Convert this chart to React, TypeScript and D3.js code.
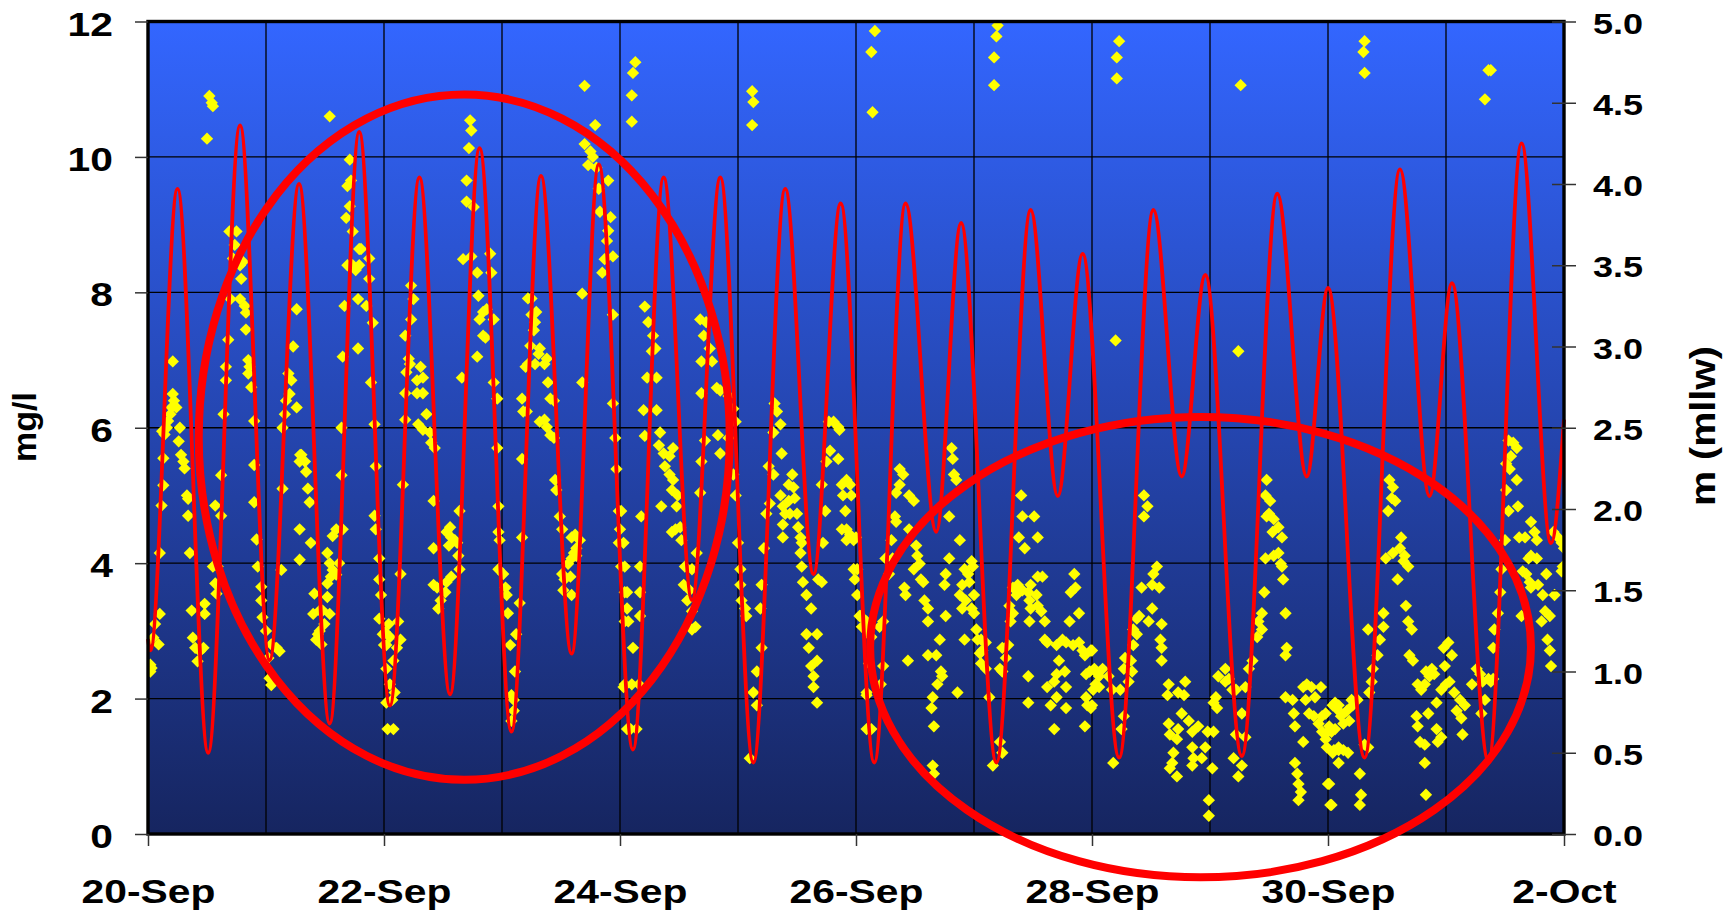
import React, { useRef, useEffect } from "react";
import * as d3 from "d3";

// x axis: days since 20-Sep (labels every 2 days)
const startDate = Date.UTC(2006, 8, 20);
const xTickDays = [0, 2, 4, 6, 8, 10, 12];
const leftTicks = [0, 2, 4, 6, 8, 10, 12];
const rightTicks = [0, 0.5, 1, 1.5, 2, 2.5, 3, 3.5, 4, 4.5, 5];

// tide (m mllw), highs and lows: [day, m]
const tide: [number, number][] = [
  [0, 1.2], [0.02, 1.13], [0.25, 3.97], [0.51, 0.5], [0.78, 4.36], [1.03, 1.07], [1.28, 4.0], [1.54, 0.68],
  [1.79, 4.32], [2.05, 0.79], [2.3, 4.04], [2.56, 0.86], [2.81, 4.22], [3.08, 0.63], [3.33, 4.05], [3.59, 1.11],
  [3.82, 4.12], [4.11, 0.52], [4.37, 4.04], [4.61, 1.44], [4.85, 4.04], [5.13, 0.44], [5.4, 3.97], [5.64, 1.6],
  [5.87, 3.88], [6.155, 0.44], [6.42, 3.88], [6.68, 1.86], [6.89, 3.76], [7.19, 0.44], [7.48, 3.84], [7.71, 2.08],
  [7.92, 3.57], [8.23, 0.47], [8.52, 3.84], [8.76, 2.2], [8.96, 3.44], [9.27, 0.48], [9.57, 3.94], [9.82, 2.2],
  [10.0, 3.36], [10.31, 0.47], [10.61, 4.09], [10.86, 2.08], [11.05, 3.39], [11.36, 0.45], [11.64, 4.25],
  [11.89, 1.79], [12.0, 2.55],
];

// dissolved oxygen (mg/l): [day, value]
const doSep20: [number, number][] = [
  [0.52,10.9],[0.54,10.8],[0.55,10.75],[0.5,10.27],[0.21,6.98],[0.21,6.5],[0.22,6.4],[0.2,6.3],[0.24,6.3],[0.19,6.2],[0.17,6.1],[0.16,6.0],[0.14,5.9],[0.12,5.95],[0.27,6.0],[0.26,5.8],[0.28,5.6],[0.3,5.5],[0.31,5.4],[0.13,5.55],[0.13,5.15],[0.115,4.85],[0.33,5.0],[0.34,4.95],[0.34,4.7],[0.1,4.15],[0.355,4.15],[0.1,3.25],[0.06,3.1],[0.045,2.9],[0.09,2.8],[0.0,2.85],[0.02,2.5],[0.03,2.45],[0.02,2.4],[0.37,3.3],[0.38,2.9],[0.4,2.75],[0.44,2.7],[0.42,2.55],[0.47,2.75],[0.48,3.4],[0.48,3.25],[0.57,4.85],[0.62,4.7],[0.62,5.3],[0.64,6.2],[0.66,6.7],[0.66,6.9],[0.68,7.3],[0.7,7.9],[0.72,8.5],[0.735,8.7],[0.75,8.9],[0.69,8.9],[0.78,8.4],[0.805,8.45],[0.79,8.2],[0.78,7.9],[0.82,7.8],[0.83,7.7],[0.83,7.45],[0.85,7.0],[0.86,6.9],[0.85,6.8],[0.875,6.6],[0.9,6.1],[0.9,5.45],[0.9,4.9],[0.92,4.35],[0.93,3.95],[0.96,3.65],[0.96,3.45],[0.97,3.2],[1.0,3.0],[1.045,2.8],[1.09,2.75],[1.115,2.7],[1.02,2.6],[1.03,2.3],[1.045,2.2],[0.59,3.95],[0.57,3.7],[0.58,3.55],[0.55,3.95],[1.13,3.9],[1.14,5.1],[1.14,6.0],[1.16,6.2],[1.17,6.4],[1.2,6.5],[1.26,6.3],[1.215,6.7],[1.19,6.8],[1.23,7.2],[1.26,7.75],[1.29,5.6],[1.3,5.6],[1.285,5.5],[1.33,5.5],[1.34,5.35],[1.355,5.1],[1.37,4.9],[1.285,4.5],[1.285,4.05],[1.38,4.3],[1.41,3.55],[1.4,3.25],[1.455,3.3],[1.44,2.95],[1.425,2.87],[1.47,2.8],[1.52,4.15],[1.54,4.0],[1.55,3.8],[1.565,3.9],[1.595,3.83],[1.62,4.0],[1.65,4.5],[1.595,4.5],[1.565,4.4],[1.52,3.7],[1.52,3.5],[1.48,3.3],[1.495,3.1],[1.54,3.25],[1.455,3.0],[1.64,5.3],[1.64,6.0],[1.65,7.05],[1.665,7.8],[1.69,8.4],[1.735,8.4],[1.76,8.33],[1.79,8.4],[1.79,8.64],[1.805,8.64],[1.875,8.5],[1.875,8.2],[1.68,9.1],[1.71,9.27],[1.735,8.9],[1.69,9.57],[1.72,9.65],[1.71,9.96],[1.54,10.6],[1.78,7.9],[1.85,7.8],[1.905,7.55],[1.78,7.17],[1.89,6.67],[1.92,6.05],[1.93,5.43],[1.92,4.7],[1.93,4.5],[1.96,4.07],[1.96,3.76],[1.975,3.53],[1.96,3.18],[1.99,2.95],[2.0,2.79],[2.02,2.44],[2.02,1.94],[2.03,1.55],
];
const doSep22: [number, number][] = [
  [2.73,10.54],[2.74,10.39],[2.72,10.13],[2.7,9.65],[2.7,9.34],[2.76,9.26],[2.67,8.49],[2.74,8.53],[2.79,8.29],[2.9,8.57],[2.91,8.29],[2.8,7.95],[2.84,7.71],[2.87,7.75],[2.93,7.6],[2.81,7.6],[2.84,7.36],[2.86,7.33],[2.79,7.05],[2.66,6.74],[2.93,6.67],[2.96,6.43],[2.96,5.7],[2.97,4.84],[2.97,4.46],[2.98,4.34],[2.23,8.1],[2.25,7.9],[2.23,7.6],[2.18,7.36],[2.21,7.02],[2.22,6.94],[2.31,6.9],[2.33,6.74],[2.28,6.7],[2.19,6.82],[2.18,6.51],[2.28,6.51],[2.33,6.51],[2.36,6.2],[2.18,6.12],[2.29,6.05],[2.33,5.97],[2.39,5.93],[2.4,5.78],[2.43,5.7],[2.16,5.16],[2.42,4.92],[2.64,4.77],[2.56,4.53],[2.53,4.46],[2.57,4.38],[2.6,4.34],[2.62,4.3],[2.55,4.26],[2.42,4.22],[2.63,4.11],[2.64,3.91],[2.14,3.84],[2.57,3.8],[2.53,3.72],[2.42,3.68],[2.45,3.64],[2.52,3.57],[2.48,3.45],[2.46,3.33],[2.04,3.1],[2.12,3.14],[2.01,2.98],[2.05,2.91],[2.14,2.87],[2.02,2.79],[2.11,2.75],[2.08,2.56],[2.05,2.21],[2.09,2.09],[2.07,1.98],[2.08,1.55],[2.97,3.91],[3.01,3.84],[3.03,3.64],[3.04,3.53],[3.05,3.26],[3.15,3.41],[3.12,2.95],[3.07,2.79],[3.11,2.4],[3.08,2.05],[3.1,1.98],[3.1,1.82],[3.08,1.67],[3.17,4.38],[3.17,5.54],[3.18,6.24],[3.17,6.43],[3.21,6.24],[3.2,6.9],[3.22,6.94],[3.24,7.21],[3.27,7.44],[3.25,7.67],[3.22,7.91],[3.25,7.91],[3.29,7.71],[3.28,7.56],[3.32,7.17],[3.38,7.02],[3.36,6.94],[3.31,7.09],[3.28,6.94],[3.39,6.67],[3.41,6.43],[3.44,6.4],[3.32,6.09],[3.36,6.12],[3.38,6.01],[3.41,5.89],[3.44,5.85],[3.45,5.23],[3.46,5.08],[3.49,4.69],[3.51,4.5],[3.59,4.38],[3.62,4.42],[3.66,4.34],[3.63,4.22],[3.61,4.15],[3.59,4.07],[3.56,3.99],[3.63,4.11],[3.51,3.84],[3.53,3.76],[3.58,3.8],[3.52,3.6],[3.59,3.53],[3.68,7.98],[3.68,6.67],[3.7,11.05],[3.79,10.47],[3.7,10.19],[3.75,10.08],[3.77,10.0],[3.73,9.88],[3.8,9.84],[3.82,9.53],[3.9,9.65],[3.83,9.19],[3.92,9.11],[3.9,8.91],[3.89,8.76],[3.87,8.49],[3.94,8.53],[3.85,8.29],[3.94,7.67],[3.94,6.36],[3.96,5.85],[3.97,5.39],[3.99,4.77],[4.0,4.5],[3.99,4.3],[4.01,3.95],[4.04,3.57],[4.06,3.33],[4.04,3.14],[4.04,2.21],[4.06,1.55],
];
const doSep24: [number, number][] = [
  [4.13,11.4],[4.11,11.24],[4.1,10.91],[4.1,10.52],[4.21,7.79],[4.24,7.56],[4.28,7.36],[4.3,7.17],[4.27,7.13],[4.23,6.74],[4.31,6.74],[4.2,6.26],[4.31,6.26],[4.21,5.88],[4.34,5.93],[4.33,5.74],[4.37,5.62],[4.42,5.58],[4.45,5.7],[4.38,5.43],[4.42,5.31],[4.45,5.23],[4.44,5.08],[4.49,5.0],[4.35,4.84],[4.48,4.84],[4.18,4.69],[4.47,4.5],[4.51,4.53],[4.52,4.34],[4.44,4.46],[4.01,4.77],[4.03,4.3],[4.04,3.95],[4.06,3.57],[4.07,3.14],[4.11,2.75],[4.03,2.17],[4.1,2.21],[4.16,2.21],[4.09,1.55],[4.14,1.55],[4.17,3.95],[4.17,3.57],[4.17,3.22],[4.65,4.15],[4.61,3.91],[4.55,3.95],[4.54,3.68],[4.59,3.6],[4.57,3.45],[4.61,3.29],[4.64,3.06],[4.61,3.02],[4.68,7.6],[4.73,7.56],[4.71,7.36],[4.69,6.98],[4.76,7.17],[4.78,6.98],[4.69,6.51],[4.72,5.81],[4.69,5.5],[4.68,5.04],[4.82,6.59],[4.85,6.55],[4.92,6.47],[4.83,5.89],[4.85,5.62],[4.92,5.85],[4.96,6.28],[4.98,6.09],[4.96,5.31],[4.98,5.0],[5.0,4.3],[5.02,3.91],[5.02,3.68],[5.03,3.45],[5.06,3.33],[5.07,3.22],[5.12,10.97],[5.13,10.81],[5.12,10.47],[5.31,6.36],[5.33,6.24],[5.36,6.05],[5.3,5.93],[5.37,5.62],[5.26,5.43],[5.3,5.31],[5.27,4.88],[5.24,4.73],[5.22,4.22],[5.2,3.68],[5.19,3.33],[5.2,2.75],[5.16,2.4],[5.13,2.09],[5.16,1.9],[5.1,1.12],[5.43,5.16],[5.46,5.31],[5.47,5.12],[5.36,5.0],[5.38,4.84],[5.43,4.92],[5.48,4.96],[5.4,4.73],[5.44,4.73],[5.5,4.73],[5.38,4.57],[5.51,4.53],[5.38,4.38],[5.53,4.38],[5.54,4.3],[5.53,4.15],[5.54,3.95],[5.55,3.72],[5.58,3.53],[5.62,3.33],[5.58,2.95],[5.67,2.95],[5.6,2.75],[5.67,2.56],[5.62,2.48],[5.64,2.33],[5.64,2.17],[5.67,1.94],[5.68,3.76],[5.71,3.72],[5.72,4.3],[5.74,4.77],[5.71,5.16],[5.75,5.5],[5.78,5.66],[5.85,5.54],[5.77,6.09],[5.81,6.09],[5.85,6.01],[5.86,5.97],[5.88,5.16],[5.92,5.23],[5.95,5.16],[5.89,5.0],[5.96,5.0],[5.91,4.77],[5.92,4.5],[5.95,4.42],[5.98,4.34],[5.92,4.34],[5.88,4.5],[5.98,3.91],[5.99,3.76],[6.01,3.53],[6.03,3.22],[6.05,3.06],[6.09,3.14],[6.09,2.05],[6.09,1.55],
];
const doSep26: [number, number][] = [
  [6.16,11.86],[6.13,11.55],[6.14,10.66],[7.2,11.94],[7.19,11.78],[7.17,11.47],[7.17,11.06],[6.0,4.38],[6.01,3.91],[6.04,3.22],[6.07,3.06],[6.1,2.98],[6.13,2.91],[6.11,2.52],[6.09,2.09],[6.13,1.55],[6.23,3.14],[6.2,3.06],[6.23,2.48],[6.21,2.21],[6.37,5.39],[6.4,5.31],[6.37,5.16],[6.34,5.04],[6.33,4.69],[6.34,4.61],[6.3,4.34],[6.31,4.07],[6.28,3.84],[6.25,4.07],[6.45,5.0],[6.49,4.92],[6.45,4.5],[6.51,4.26],[6.52,4.11],[6.54,3.99],[6.49,3.91],[6.55,3.76],[6.57,3.72],[6.41,3.64],[6.42,3.53],[6.44,2.56],[6.58,3.45],[6.61,3.33],[6.61,3.14],[6.61,2.64],[6.68,2.64],[6.71,2.87],[6.72,2.4],[6.73,2.33],[6.69,2.21],[6.65,2.02],[6.64,1.86],[6.66,1.59],[6.65,1.01],[6.66,0.89],[6.76,3.22],[6.76,3.84],[6.75,3.68],[6.79,4.69],[6.81,5.7],[6.82,5.54],[6.83,5.31],[6.85,5.23],[6.86,2.09],[6.88,4.34],[6.79,4.07],[6.92,3.91],[6.95,3.84],[6.98,4.03],[6.99,3.95],[6.96,3.72],[6.9,3.68],[6.88,3.53],[6.9,3.33],[6.93,3.45],[7.0,3.53],[6.98,3.33],[7.0,3.26],[6.92,2.87],[7.02,3.02],[7.03,2.87],[7.06,2.87],[7.1,2.83],[7.07,2.71],[7.05,2.67],[7.06,2.52],[7.1,2.44],[7.13,2.02],[7.22,1.36],[7.24,1.2],[7.16,1.01],[7.24,2.75],[7.29,2.79],[7.27,2.6],[7.24,2.4],[7.22,2.44],[7.33,3.64],[7.37,3.68],[7.36,3.53],[7.3,3.37],[7.33,3.26],[7.31,3.14],[7.4,5.0],[7.41,4.69],[7.51,4.69],[7.38,4.38],[7.54,4.38],[7.43,4.22],[7.41,3.6],[7.46,3.57],[7.48,3.68],[7.54,3.8],[7.58,3.8],[7.53,3.53],[7.47,3.45],[7.54,3.37],[7.48,3.33],[7.57,3.29],[7.47,3.14],[7.6,3.14],[7.46,2.33],[7.46,1.94],[7.6,2.87],[7.62,2.83],[7.7,2.79],[7.75,2.87],[7.78,2.83],[7.84,2.79],[7.72,2.56],[7.77,2.4],[7.7,2.36],[7.68,2.25],[7.62,2.17],[7.78,2.17],[7.7,2.02],[7.65,1.9],[7.78,1.86],[7.68,1.55],[7.85,3.84],[7.86,3.64],[7.82,3.57],[7.89,3.26],[7.81,3.14],[7.89,2.83],[7.92,2.71],[7.99,2.71],[7.94,2.64],[7.95,2.36],[7.98,2.4],[8.02,2.44],[8.06,2.33],[8.03,2.21],[8.01,2.13],[7.95,2.02],[7.96,1.9],[7.99,1.86],[7.94,1.59],
];
const doSep28: [number, number][] = [
  [8.23,11.71],[8.21,11.47],[8.21,11.16],[9.26,11.06],[8.2,7.29],[9.24,7.13],[8.44,5.0],[8.47,4.84],[8.44,4.69],[8.55,3.95],[8.52,3.84],[8.51,3.68],[8.57,3.64],[8.42,3.64],[8.51,3.33],[8.4,3.22],[8.38,3.18],[8.48,3.14],[8.59,3.1],[8.35,3.02],[8.38,2.95],[8.58,2.87],[8.59,2.75],[8.59,2.56],[8.35,2.79],[8.33,2.56],[8.28,2.6],[8.27,2.44],[8.34,2.4],[8.31,2.25],[8.0,2.71],[8.03,2.4],[8.09,2.44],[8.14,2.33],[8.06,2.17],[8.17,2.13],[8.0,1.9],[8.24,2.13],[8.27,1.74],[8.25,1.55],[8.18,1.05],[8.65,2.21],[8.64,2.05],[8.79,2.25],[8.73,2.09],[8.78,2.05],[8.76,1.78],[8.82,1.67],[8.65,1.63],[8.73,1.55],[8.9,1.59],[8.98,1.51],[9.03,1.51],[8.85,1.51],[8.66,1.47],[8.72,1.4],[8.85,1.28],[8.96,1.28],[8.69,1.2],[8.86,1.12],[8.93,1.12],[8.68,1.05],[8.66,0.97],[8.85,1.01],[9.02,0.97],[8.72,0.85],[8.99,0.5],[8.99,0.27],[9.05,2.02],[9.06,1.86],[9.03,1.94],[9.07,2.33],[9.13,2.25],[9.16,2.29],[9.13,2.44],[9.19,2.13],[9.22,2.13],[9.27,1.78],[9.22,1.47],[9.3,1.43],[9.2,1.12],[9.27,1.01],[9.24,0.85],[9.3,2.17],[9.33,2.44],[9.36,2.56],[9.4,2.91],[9.44,3.02],[9.41,3.14],[9.44,3.26],[9.46,3.57],[9.47,4.07],[9.48,5.23],[9.47,5.0],[9.51,4.92],[9.5,4.73],[9.48,4.69],[9.54,4.65],[9.58,4.53],[9.53,4.46],[9.61,4.38],[9.58,4.15],[9.54,4.11],[9.6,3.99],[9.61,3.95],[9.62,3.76],[9.64,3.26],[9.65,2.75],[9.64,2.64],[9.64,2.02],[9.7,1.98],[9.71,1.78],[9.72,1.59],[9.72,1.05],[9.74,0.89],[9.75,0.74],[9.77,0.62],[9.75,0.5],[9.79,2.17],[9.82,2.21],[9.86,2.17],[9.94,2.17],[9.81,1.98],[9.89,2.02],[9.84,1.78],[9.88,1.74],[9.95,1.74],[9.98,1.78],[9.92,1.63],[10.01,1.59],[9.95,1.51],[10.03,1.51],[9.98,1.4],[9.79,1.36],[9.99,1.28],[10.05,1.24],[10.09,1.24],[10.09,1.05],[10.01,0.74],[10.02,0.43],[10.06,1.94],[10.09,1.9],
];
const doSep30: [number, number][] = [
  [10.31,11.71],[10.3,11.55],[10.31,11.24],[11.36,11.28],[11.38,11.28],[11.33,10.85],[10.52,5.23],[10.55,5.12],[10.54,4.96],[10.57,4.92],[10.51,4.77],[10.62,4.38],[10.61,4.22],[10.55,4.15],[10.49,4.07],[10.65,4.11],[10.68,3.95],[10.64,4.03],[10.59,3.76],[10.66,3.37],[10.68,3.14],[10.71,3.02],[10.47,3.26],[10.47,3.06],[10.44,2.87],[10.34,3.02],[10.42,2.64],[10.38,2.44],[10.37,2.25],[10.35,2.09],[10.69,2.64],[10.72,2.56],[10.76,2.21],[10.79,2.13],[10.83,2.4],[10.86,2.33],[10.88,2.44],[10.9,2.36],[10.82,2.21],[10.98,2.75],[11.02,2.83],[11.05,2.64],[10.99,2.48],[11.0,2.21],[10.96,2.13],[10.92,1.94],[10.85,1.78],[10.75,1.74],[10.76,1.59],[10.78,1.36],[10.82,1.32],[10.82,1.05],[10.83,0.58],[10.92,1.55],[10.93,1.36],[10.96,1.43],[11.03,2.25],[11.07,2.09],[11.12,1.98],[11.16,1.9],[11.09,1.82],[11.13,1.71],[11.14,1.47],[11.22,2.21],[11.26,2.44],[11.29,2.36],[11.31,2.25],[11.36,2.29],[11.4,2.29],[11.3,1.78],[11.33,1.98],[10.04,1.9],[10.09,1.82],[10.11,1.74],[10.16,1.82],[10.21,1.9],[10.18,1.67],[10.13,1.63],[10.06,1.55],[10.0,1.51],[10.09,1.28],[10.13,1.24],[10.04,1.2],[10.17,1.2],[10.0,0.74],[10.03,0.43],[10.27,0.89],[10.28,0.58],[10.27,0.43],[10.31,1.32],[10.34,1.28],[10.25,1.98],[10.2,1.98],[11.53,5.81],[11.57,5.78],[11.6,5.7],[11.55,5.58],[11.51,5.47],[11.54,5.39],[11.6,5.23],[11.51,5.08],[11.53,4.77],[11.61,4.84],[11.5,4.34],[11.47,3.91],[11.46,3.57],[11.44,3.26],[11.41,3.02],[11.4,2.75],[11.38,2.25],[11.62,4.38],[11.67,4.38],[11.72,4.61],[11.75,4.46],[11.77,4.34],[11.7,4.07],[11.72,4.11],[11.77,4.07],[11.65,3.88],[11.68,3.84],[11.71,3.72],[11.72,3.64],[11.78,3.68],[11.82,3.53],[11.85,3.84],[11.92,3.53],[11.84,3.29],[11.88,3.22],[11.86,2.87],[11.88,2.71],[11.89,2.48],[11.81,3.14],[11.64,3.22],[11.91,4.46],[11.95,4.38],[11.98,4.3],[12.0,4.22],[11.99,3.95],[11.98,3.88],
];

// hand-drawn circles, in data units: centre day / mg/l, radius in days / mg/l
const circleDays = [2.68, 8.92];
const circleMg = [5.86, 2.76];
const circleRxDays = [2.25, 2.8];
const circleRyMg = [5.06, 3.4];

const font = "'Liberation Sans', Arial, sans-serif";

const App = () => {
  const svgRef = useRef<SVGSVGElement>(null);

  useEffect(() => {
    const left = 148, right = 1564, top = 21.5, bottom = 834;
    const day = (d: number) => new Date(startDate + d * 864e5);

    const svg = d3.select(svgRef.current);
    svg.selectAll("*").remove();

    const x = d3.scaleUtc().domain([day(0), day(12)]).range([left, right]);
    const yL = d3.scaleLinear().domain([0, 12]).range([bottom, top]);
    const yR = d3.scaleLinear().domain([0, 5]).range([bottom, top]);

    const defs = svg.append("defs");
    const grad = defs.append("linearGradient").attr("id", "bg")
      .attr("x1", 0).attr("y1", 0).attr("x2", 0).attr("y2", 1);
    grad.append("stop").attr("offset", "0%").attr("stop-color", "#3366FF");
    grad.append("stop").attr("offset", "100%").attr("stop-color", "#162560");
    defs.append("clipPath").attr("id", "plotClip").append("rect")
      .attr("x", left).attr("y", top).attr("width", right - left).attr("height", bottom - top);

    svg.append("rect")
      .attr("x", left).attr("y", top).attr("width", right - left).attr("height", bottom - top)
      .attr("fill", "url(#bg)");

    // gridlines
    const grid = svg.append("g").attr("stroke", "#000").attr("stroke-width", 1.3);
    grid.selectAll("line.h").data(leftTicks.slice(1, -1)).join("line")
      .attr("x1", left).attr("x2", right)
      .attr("y1", (d) => yL(d)).attr("y2", (d) => yL(d));
    grid.selectAll("line.v").data(d3.range(1, 12)).join("line")
      .attr("x1", (d) => x(day(d))).attr("x2", (d) => x(day(d)))
      .attr("y1", top).attr("y2", bottom);

    // DO diamonds
    const doAll = [...doSep20, ...doSep22, ...doSep24, ...doSep26, ...doSep28, ...doSep30];
    const diamond = d3.symbol().type(d3.symbolSquare).size(76)();
    svg.append("g").attr("clip-path", "url(#plotClip)")
      .selectAll("path").data(doAll).join("path")
      .attr("d", diamond)
      .attr("transform", (d) => `translate(${x(day(d[0]))},${yL(d[1])}) rotate(45)`)
      .attr("fill", "#FFFF00");

    // tide line
    const line = d3.line<[number, number]>()
      .x((d) => x(day(d[0])))
      .y((d) => yR(d[1]))
      .curve(d3.curveMonotoneX);
    svg.append("path").datum(tide)
      .attr("d", line)
      .attr("fill", "none").attr("stroke", "#FF0000").attr("stroke-width", 3.8)
      .attr("stroke-linejoin", "round");

    // plot border
    svg.append("rect")
      .attr("x", left).attr("y", top).attr("width", right - left).attr("height", bottom - top)
      .attr("fill", "none").attr("stroke", "#000").attr("stroke-width", 3.4);

    const styleAxis = (g: any, size: number) => {
      g.attr("font-family", font).attr("font-size", size).attr("font-weight", "bold");
      g.select(".domain").remove();
      g.selectAll("line").attr("stroke", "#333").attr("stroke-width", 1.5);
      g.selectAll("text").attr("fill", "#000").attr("x", 0).attr("y", 0).attr("dy", 0);
    };

    const fmt = d3.utcFormat("%-d-%b");
    const gx = svg.append("g").attr("transform", `translate(0,${bottom})`)
      .call(d3.axisBottom(x).tickValues(xTickDays.map(day)).tickSize(12).tickFormat((d: any) => fmt(d)));
    styleAxis(gx, 34);
    gx.selectAll("text").attr("text-anchor", "middle").attr("transform", "translate(0,69) scale(1.2,1)");

    const gl = svg.append("g").attr("transform", `translate(${left},0)`)
      .call(d3.axisLeft(yL).tickValues(leftTicks).tickSize(13).tickFormat(d3.format("d")));
    styleAxis(gl, 34);
    gl.selectAll("text").attr("text-anchor", "end").attr("transform", "translate(-35,13.5) scale(1.2,1)");

    const gr = svg.append("g").attr("transform", `translate(${right},0)`)
      .call(d3.axisRight(yR).tickValues(rightTicks).tickSize(12).tickFormat(d3.format(".1f")));
    styleAxis(gr, 30);
    gr.selectAll("line").attr("x1", -12).attr("x2", 12);
    gr.selectAll("text").attr("text-anchor", "start").attr("transform", "translate(29,11.5) scale(1.2,1)");

    // axis titles
    svg.append("text")
      .attr("transform", "translate(36,427) rotate(-90)")
      .attr("text-anchor", "middle").attr("font-family", font).attr("font-weight", "bold")
      .attr("font-size", 34).text("mg/l");
    svg.append("text")
      .attr("transform", "translate(1715,426) rotate(-90)")
      .attr("text-anchor", "middle").attr("font-family", font).attr("font-weight", "bold")
      .attr("font-size", 35).attr("textLength", 160).attr("lengthAdjust", "spacingAndGlyphs")
      .text("m (mllw)");

    // red circles
    svg.append("g").selectAll("ellipse").data(circleDays).join("ellipse")
      .attr("cx", (d) => x(day(d)))
      .attr("cy", (_d, i) => yL(circleMg[i]))
      .attr("rx", (d, i) => x(day(d + circleRxDays[i])) - x(day(d)))
      .attr("ry", (_d, i) => yL(0) - yL(circleRyMg[i]))
      .attr("fill", "none").attr("stroke", "#FF0000").attr("stroke-width", 8);
  }, []);

  return (
    <svg
      ref={svgRef}
      width={1731}
      height={913}
      style={{ position: "absolute", left: 0, top: 0, background: "#fff" }}
    />
  );
};

export default App;
